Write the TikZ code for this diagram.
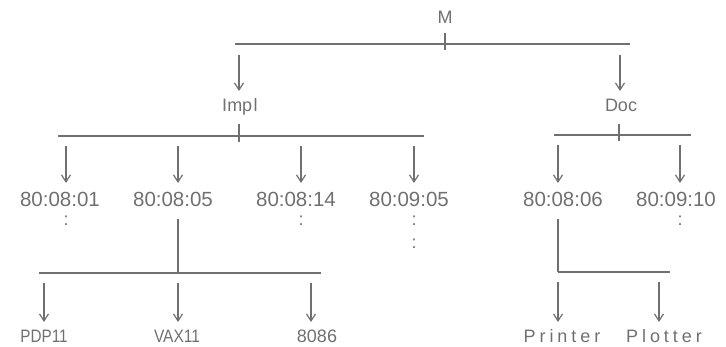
\documentclass[tikz,border=0pt]{standalone}
\usepackage{fontspec}
\usepackage{graphicx}
\setmainfont{Liberation Sans}
\newfontfamily\widefont[LetterSpace=22]{Liberation Sans}
\usetikzlibrary{arrows.meta}
\definecolor{ink}{RGB}{112,112,112}
\begin{document}
\begin{tikzpicture}[x=1pt,y=-1pt,
  line/.style={draw=ink,line width=1.2pt},
  arr/.style={line,-{Straight Barb[length=7pt,width=9pt,line width=1.2pt]}},
  lbl/.style={text=ink,font=\fontsize{18}{20}\selectfont,anchor=base,inner sep=0pt,outer sep=9pt,text height=12pt,text depth=3pt},
  num/.style={lbl,font=\fontsize{20.5}{22}\selectfont,outer sep=12pt,text depth=0pt},
  dots/.style={text=ink,font=\fontsize{18}{20}\selectfont,inner sep=0pt}]
\useasboundingbox (0,0) rectangle (726,347);
% labels
\node[lbl,outer sep=6pt] (M) at (445,24) {M};
\node[lbl] (Impl) at (240,112) {Imp\hspace{1.5pt}l};
\node[lbl] (Doc) at (621,112) {Doc};
\node[num] (a1) at (60,207) {80:08:01};
\node[num] (a2) at (173,207) {80:08:05};
\node[num] (a3) at (296,207) {80:08:14};
\node[num] (a4) at (409,207) {80:09:05};
\node[num] (d1) at (563,207) {80:08:06};
\node[num] (d2) at (676,207) {80:09:10};
\node[lbl] (p1) at (44,343) {\scalebox{0.85}[1]{PDP11}};
\node[lbl] (p2) at (177,343) {\scalebox{0.86}[1]{VAX11}};
\node[lbl] (p3) at (317,343) {8086};
\node[lbl] (q1) at (562,343) {\widefont Printer};
\node[lbl] (q2) at (664,343) {\widefont Plotter};
% colons
\node[dots] (c1) at (66,221) {:};
\node[dots] (c3) at (301,221) {:};
\node[dots] (c4) at (414,221) {:};
\node[dots] (c5) at (414,244) {:};
\node[dots] (c6) at (680,221) {:};
% top bar
\coordinate (tL) at (235,44); \coordinate (tR) at (630,44);
\coordinate (tT) at (445,50);
\draw[line] (tL) -- (tR);
\draw[line] (M.south) -- (tT);
\coordinate (s1) at (239,55); \coordinate (s2) at (620,55);
\draw[arr] (s1) -- (s1 |- Impl.north);
\draw[arr] (s2) -- (s2 |- Doc.north);
% Impl bar
\coordinate (iL) at (58,136); \coordinate (iR) at (424,136);
\coordinate (iT) at (239,142);
\draw[line] (iL) -- (iR);
\draw[line] (Impl.south -| iT) -- (iT);
\coordinate (u1) at (66,146); \coordinate (u2) at (178,146);
\coordinate (u3) at (301,146); \coordinate (u4) at (414,146);
\draw[arr] (u1) -- (u1 |- a1.north);
\draw[arr] (u2) -- (u2 |- a2.north);
\draw[arr] (u3) -- (u3 |- a3.north);
\draw[arr] (u4) -- (u4 |- a4.north);
% Doc bar
\coordinate (dL) at (554,135); \coordinate (dR) at (691,135);
\coordinate (dT) at (619,141);
\draw[line] (dL) -- (dR);
\draw[line] (Doc.south -| dT) -- (dT);
\coordinate (v1) at (558,145); \coordinate (v2) at (680,145);
\draw[arr] (v1) -- (v1 |- d1.north);
\draw[arr] (v2) -- (v2 |- d2.north);
% bottom left bar
\coordinate (bL) at (39,273); \coordinate (bR) at (321,273);
\coordinate (bM) at (178,273);
\draw[line] (bL) -- (bR);
\draw[line] (a2.south -| bM) -- (bM);
\coordinate (w1) at (44,283); \coordinate (w2) at (178,283); \coordinate (w3) at (311,283);
\draw[arr] (w1) -- (w1 |- p1.north);
\draw[arr] (w2) -- (w2 |- p2.north);
\draw[arr] (w3) -- (w3 |- p3.north);
% bottom right bar
\coordinate (rL) at (558,272); \coordinate (rR) at (670,272);
\draw[line] (rL) -- (rR);
\draw[line] (d1.south -| rL) -- (rL);
\coordinate (x1) at (558,282); \coordinate (x2) at (659,282);
\draw[arr] (x1) -- (x1 |- q1.north);
\draw[arr] (x2) -- (x2 |- q2.north);
\end{tikzpicture}
\end{document}
